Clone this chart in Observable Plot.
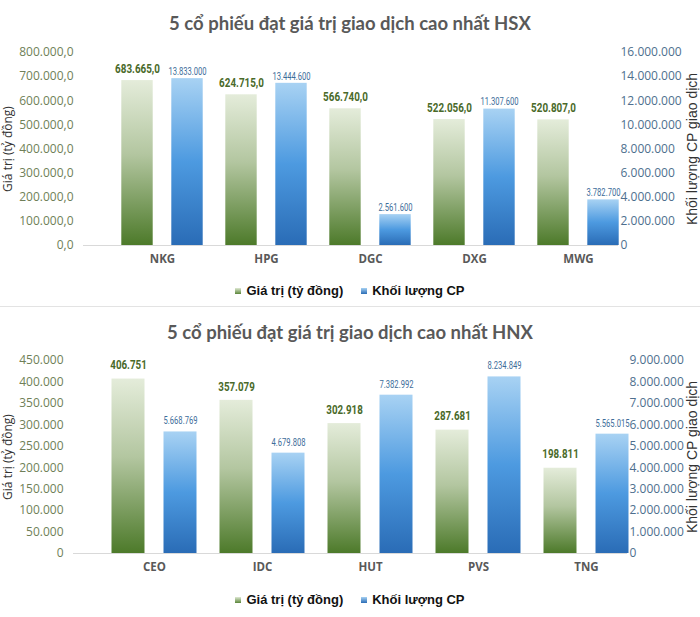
<!DOCTYPE html>
<html><head><meta charset="utf-8">
<script src="https://cdn.jsdelivr.net/npm/d3@7"></script>
<script src="https://cdn.jsdelivr.net/npm/@observablehq/plot@0.6"></script>
<style>
body{margin:0;background:#fff;width:700px;height:617px;overflow:hidden;font-family:"Open Sans",sans-serif;}
.title{font-family:Lato,sans-serif;font-weight:700;font-size:18.5px;color:#595959;text-align:center;white-space:nowrap;}
.legend{display:flex;justify-content:center;align-items:center;gap:18px;font-family:"Liberation Sans",Arial,sans-serif;font-weight:700;font-size:13px;color:#111;}
.legend .sw{display:inline-block;width:6px;height:6px;margin-right:5px;vertical-align:middle;position:relative;top:-1px}
.sep{height:1px;background:#e3e3e3;}
svg{display:block}
</style></head><body>
<div class="title" style="height:40px;line-height:46px">5 cổ phiếu đạt giá trị giao dịch cao nhất HSX</div>
<div id="c1"></div>
<div class="legend" style="height:31px"><span><span class="sw" style="background:linear-gradient(#dfe9d3,#5a8538)"></span>Giá trị (tỷ đồng)</span><span><span class="sw" style="background:linear-gradient(#a6d1f3,#2a6cb5)"></span>Khối lượng CP</span></div>
<div class="sep"></div>
<div class="title" style="height:44px;line-height:50px">5 cổ phiếu đạt giá trị giao dịch cao nhất HNX</div>
<div id="c2"></div>
<div class="legend" style="height:35px"><span><span class="sw" style="background:linear-gradient(#dfe9d3,#5a8538)"></span>Giá trị (tỷ đồng)</span><span><span class="sw" style="background:linear-gradient(#a6d1f3,#2a6cb5)"></span>Khối lượng CP</span></div>
<script>
// ---- data ----
const hsxTickers = ["NKG", "HPG", "DGC", "DXG", "MWG"];
const hsxValue = [683665.0, 624715.0, 566740.0, 522056.0, 520807.0];
const hsxVolume = [13833000, 13444600, 2561600, 11307600, 3782700];
const hsxValueTicks = [0, 100000, 200000, 300000, 400000, 500000, 600000, 700000, 800000];
const hsxVolumeTicks = [0, 2000000, 4000000, 6000000, 8000000, 10000000, 12000000, 14000000, 16000000];

const hnxTickers = ["CEO", "IDC", "HUT", "PVS", "TNG"];
const hnxValue = [406751, 357079, 302918, 287681, 198811];
const hnxVolume = [5668769, 4679808, 7382992, 8234849, 5565015];
const hnxValueTicks = [0, 50000, 100000, 150000, 200000, 250000, 300000, 350000, 400000, 450000];
const hnxVolumeTicks = [0, 1000000, 2000000, 3000000, 4000000, 5000000, 6000000, 7000000, 8000000, 9000000];

const leftTitle = "Giá trị (tỷ đồng)";
const rightTitle = "Khối lượng CP giao dịch";

// ---- formatting ----
const vi = d3.formatLocale({decimal: ",", thousands: ".", grouping: [3], currency: ["", ""]});
const f1 = vi.format(",.1f");
const f0 = vi.format(",.0f");

// narrow (Arial Narrow–like) width of a numeric label, in em
function narrowEm(s) {
  let w = 0;
  for (const c of s) w += /[0-9]/.test(c) ? 0.456 : 0.228;
  return w;
}

function makeChart(o) {
  const data = o.tickers.map((t, i) => ({ticker: t, value: o.values[i], volume: o.volumes[i]}));
  const yMax = o.valueTicks[o.valueTicks.length - 1];
  const vMax = o.volumeTicks[o.volumeTicks.length - 1];
  const ratio = yMax / vMax;
  const step = (o.xRange[1] - o.xRange[0]) / o.tickers.length;
  const il = (step - 2 * o.barW - o.gap) / 2;
  const off = (o.barW + o.gap) / 2;
  const frameRight = o.width - o.marginRight;
  const svg = Plot.plot({
    width: o.width, height: o.height,
    marginTop: o.marginTop, marginBottom: o.marginBottom,
    marginLeft: o.marginLeft, marginRight: o.marginRight,
    style: {fontFamily: "'Open Sans',sans-serif", fontSize: "12px", background: "transparent", overflow: "visible"},
    x: {domain: o.tickers, range: o.xRange, padding: 0},
    y: {domain: [0, yMax]},
    marks: [
      Plot.ruleY([0], {stroke: "#d9d9d9", strokeWidth: 1}),
      Plot.barY(data, {x: "ticker", y: "value", fill: `url(#${o.id}G)`, insetLeft: il, insetRight: step - il - o.barW}),
      Plot.barY(data, {x: "ticker", y: d => d.volume * ratio, fill: `url(#${o.id}B)`, insetLeft: il + o.barW + o.gap, insetRight: il}),
      Plot.text(data, {x: "ticker", y: "value", text: d => o.valFmt(d.value), dx: -off, dy: o.valDy,
        fill: "#4a6a2a", fontWeight: 700, fontSize: 13, fontFamily: "Roboto,sans-serif"}),
      Plot.text(data, {x: "ticker", y: d => d.volume * ratio, text: d => f0(d.volume), dx: off, dy: o.volDy,
        fill: "#3d6d9a", fontSize: 10.5, fontFamily: "Roboto,sans-serif"}),
      Plot.axisY(o.valueTicks, {anchor: "left", tickSize: 0, tickPadding: 10, tickFormat: o.leftFmt, color: "#6f7f58", fontSize: 12, label: null}),
      Plot.axisY(o.volumeTicks.map(v => v * ratio), {anchor: "right", tickSize: 0, tickPadding: 2, tickFormat: d => f0(Math.round(d / ratio)), color: "#4e6f8e", fontSize: 12, textAnchor: "start", label: null}),
      Plot.axisX({tickSize: 0, tickPadding: 9, color: "#595959", fontWeight: 700, fontSize: 11.5, label: null}),
      Plot.text([leftTitle], {frameAnchor: "left", textAnchor: "middle", rotate: -90, dx: 8 - o.marginLeft, fontSize: 12, fill: "#333"}),
      Plot.text([rightTitle], {frameAnchor: "right", textAnchor: "middle", rotate: -90, dx: 692 - frameRight, fontSize: 14, fill: "#333", fontFamily: "'Liberation Sans',Arial,sans-serif"})
    ]
  });
  // condense the data labels (the original uses a narrow face)
  const textGroups = svg.querySelectorAll('g[aria-label="text"]');
  d3.select(textGroups[0]).selectAll("text").each(function() {
    const s = this.textContent;
    d3.select(this).attr("textLength", narrowEm(s) * o.valFs).attr("lengthAdjust", "spacingAndGlyphs");
  });
  d3.select(textGroups[1]).selectAll("text").each(function() {
    const s = this.textContent;
    d3.select(this).attr("textLength", narrowEm(s) * o.volFs).attr("lengthAdjust", "spacingAndGlyphs");
  });
  const defs = d3.select(svg).insert("defs", ":first-child");
  const g = defs.append("linearGradient").attr("id", o.id + "G").attr("x1", 0).attr("y1", 0).attr("x2", 0).attr("y2", 1);
  g.append("stop").attr("offset", "0%").attr("stop-color", "#e4ecda");
  g.append("stop").attr("offset", "45%").attr("stop-color", "#b3c6a0");
  g.append("stop").attr("offset", "100%").attr("stop-color", "#4d7a2a");
  const b = defs.append("linearGradient").attr("id", o.id + "B").attr("x1", 0).attr("y1", 0).attr("x2", 0).attr("y2", 1);
  b.append("stop").attr("offset", "0%").attr("stop-color", "#a8d2f3");
  b.append("stop").attr("offset", "50%").attr("stop-color", "#4d9ae0");
  b.append("stop").attr("offset", "100%").attr("stop-color", "#2a6cb6");
  return svg;
}

document.getElementById("c1").append(makeChart({
  id: "hsx", tickers: hsxTickers, values: hsxValue, volumes: hsxVolume,
  valueTicks: hsxValueTicks, volumeTicks: hsxVolumeTicks, leftFmt: f1, valFmt: f1,
  width: 700, height: 235, marginTop: 12, marginBottom: 30, marginLeft: 83, marginRight: 82,
  xRange: [108.7, 631.7], barW: 32, gap: 18, valDy: -12, volDy: -7, valFs: 12.3, volFs: 9.3
}));
document.getElementById("c2").append(makeChart({
  id: "hnx", tickers: hnxTickers, values: hnxValue, volumes: hnxVolume,
  valueTicks: hnxValueTicks, volumeTicks: hnxVolumeTicks, leftFmt: f0, valFmt: f0,
  width: 700, height: 231, marginTop: 9, marginBottom: 29, marginLeft: 73, marginRight: 73,
  xRange: [99.5, 639.5], barW: 33, gap: 19, valDy: -14, volDy: -11, valFs: 12.3, volFs: 9.3
}));
</script>
</body></html>
